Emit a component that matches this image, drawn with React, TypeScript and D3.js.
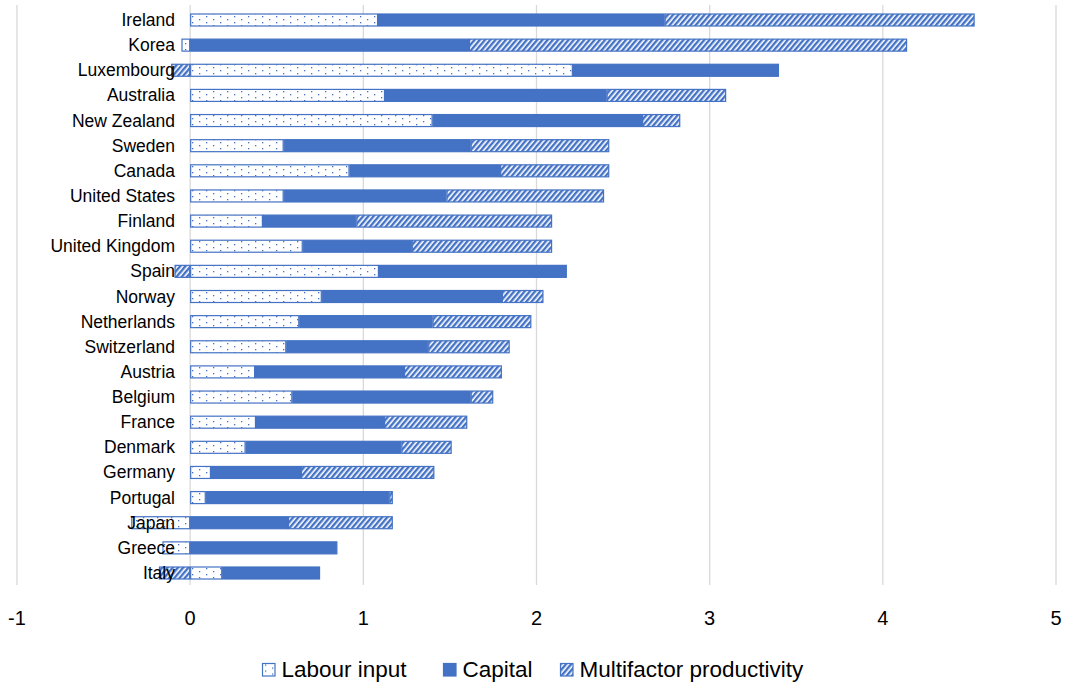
import { useRef, useEffect } from 'react';
import * as d3 from 'd3';

const countries = [
  'Ireland', 'Korea', 'Luxembourg', 'Australia', 'New Zealand', 'Sweden', 'Canada',
  'United States', 'Finland', 'United Kingdom', 'Spain', 'Norway', 'Netherlands',
  'Switzerland', 'Austria', 'Belgium', 'France', 'Denmark', 'Germany', 'Portugal',
  'Japan', 'Greece', 'Italy',
];
const labourInput = [
  1.085, -0.05, 2.21, 1.125, 1.4, 0.54, 0.92, 0.54, 0.42, 0.65, 1.09, 0.76, 0.63,
  0.555, 0.375, 0.59, 0.38, 0.32, 0.12, 0.09, -0.34, -0.16, 0.185,
];
const capital = [
  1.655, 1.61, 1.19, 1.28, 1.21, 1.08, 0.87, 0.94, 0.54, 0.63, 1.085, 1.04, 0.77,
  0.82, 0.86, 1.03, 0.74, 0.9, 0.52, 1.06, 0.565, 0.85, 0.565,
];
const mfp = [
  1.79, 2.53, -0.11, 0.69, 0.22, 0.8, 0.63, 0.91, 1.13, 0.81, -0.09, 0.24, 0.57,
  0.47, 0.565, 0.13, 0.48, 0.29, 0.77, 0.02, 0.605, 0, -0.18,
];
const ticks = [-1, 0, 1, 2, 3, 4, 5];
const seriesNames = ['Labour input', 'Capital', 'Multifactor productivity'];

const BLUE = '#4472C4';
const FONT = '"Liberation Sans", Arial, Helvetica, sans-serif';

const App = () => {
  const ref = useRef<SVGSVGElement>(null);

  useEffect(() => {
    const width = 1070;
    const height = 684;
    const svg = d3.select(ref.current);
    svg.selectAll('*').remove();
    svg.attr('width', width).attr('height', height);

    const defs = svg.append('defs');
    const dots = defs.append('pattern')
      .attr('id', 'dots').attr('patternUnits', 'userSpaceOnUse')
      .attr('width', 14).attr('height', 6);
    dots.append('rect').attr('width', 14).attr('height', 6).attr('fill', '#fff');
    dots.append('rect').attr('x', 3).attr('y', 1).attr('width', 1.3).attr('height', 1.3).attr('fill', BLUE);
    dots.append('rect').attr('x', 10).attr('y', 4).attr('width', 1.3).attr('height', 1.3).attr('fill', BLUE);

    const hatch = defs.append('pattern')
      .attr('id', 'hatch').attr('patternUnits', 'userSpaceOnUse')
      .attr('width', 4).attr('height', 4)
      .attr('patternTransform', 'rotate(40)');
    hatch.append('rect').attr('width', 4).attr('height', 4).attr('fill', '#fff');
    hatch.append('rect').attr('width', 2.4).attr('height', 4).attr('fill', BLUE);

    const fills = ['url(#dots)', BLUE, 'url(#hatch)'];

    const x = d3.scaleLinear().domain([-1, 5]).range([17, 1056]);
    const y = d3.scalePoint<string>().domain(countries).range([20, 573]);
    const barH = 12;

    // gridlines
    svg.append('g').selectAll('line').data(ticks).enter().append('line')
      .attr('x1', d => x(d)).attr('x2', d => x(d))
      .attr('y1', 5).attr('y2', 585)
      .attr('stroke', '#d9d9d9').attr('stroke-width', 1.3);

    svg.append('g').selectAll('text').data(ticks).enter().append('text')
      .attr('x', d => x(d)).attr('y', 625)
      .attr('text-anchor', 'middle')
      .attr('font-family', FONT).attr('font-size', 20).attr('fill', '#000')
      .text(d => String(d));

    const rows = countries.map((c, i) => ({
      country: c, labour: labourInput[i], capital: capital[i], mfp: mfp[i],
    }));
    const keys = ['labour', 'capital', 'mfp'];
    const stacked = d3.stack<any>().keys(keys).offset(d3.stackOffsetDiverging)(rows);

    const layers = svg.append('g').selectAll('g').data(stacked).enter().append('g')
      .attr('fill', (_d, i) => fills[i]);

    layers.selectAll('rect')
      .data(d => d.filter(s => Math.abs(s[1] - s[0]) > 1e-6))
      .enter().append('rect')
      .attr('x', d => x(Math.min(d[0], d[1])) + 0.5)
      .attr('y', d => (y(d.data.country) as number) - barH / 2)
      .attr('width', d => Math.max(0, Math.abs(x(d[1]) - x(d[0])) - 1))
      .attr('height', barH)
      .attr('stroke', BLUE).attr('stroke-width', 1.2);

    svg.append('g').selectAll('text').data(countries).enter().append('text')
      .attr('x', 175).attr('y', d => (y(d) as number) + 6)
      .attr('text-anchor', 'end')
      .attr('font-family', FONT).attr('font-size', 17.5).attr('fill', '#000')
      .text(d => d);

    // legend
    const legendX = [262, 443, 560];
    const legend = svg.append('g').selectAll('g').data(seriesNames).enter().append('g')
      .attr('transform', (_d, i) => `translate(${legendX[i]}, 669.5)`);
    legend.append('rect')
      .attr('x', 0.5).attr('y', -6).attr('width', 12.5).attr('height', 12.5)
      .attr('fill', (_d, i) => fills[i]).attr('stroke', BLUE).attr('stroke-width', 1.2);
    legend.append('text')
      .attr('x', 19.5).attr('y', 7)
      .attr('font-family', FONT).attr('font-size', 22.5).attr('fill', '#000')
      .text(d => d);
  }, []);

  return (
    <svg ref={ref} style={{ position: 'absolute', left: 0, top: 0 }}></svg>
  );
};

export default App;
